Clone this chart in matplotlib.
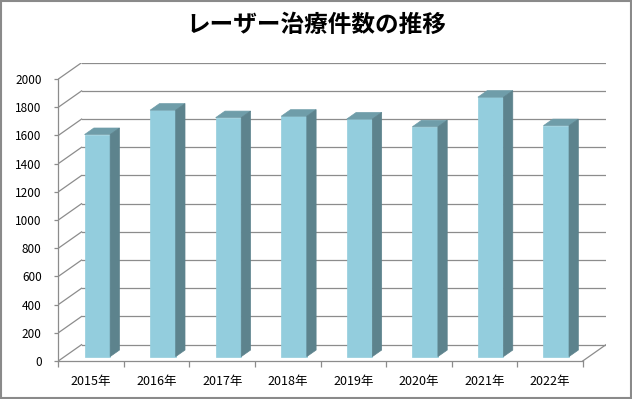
import numpy as np
import matplotlib.pyplot as plt
from matplotlib.patches import Polygon, Rectangle

plt.rcParams['font.family'] = ['Noto Sans CJK JP', 'DejaVu Sans']

# データ
years = ['2015年', '2016年', '2017年', '2018年', '2019年', '2020年', '2021年', '2022年']
counts = [1575, 1748, 1695, 1705, 1685, 1630, 1840, 1638]
yticks = np.arange(0, 2001, 200)
title = 'レーザー治療件数の推移'

# 擬似3Dの奥行き (データ単位)
DX = 0.355
DY = 116.0
f0 = 0.27     # 棒の前面の奥行き位置
dd = 0.40     # 棒の奥行き
w = 0.39      # 棒の幅

c_front = '#93cddd'
c_top = '#6f9da9'
c_side = '#5d838d'
c_grid = '#8c8c8c'

fig = plt.figure(figsize=(6.32, 3.99), dpi=100)
ax = fig.add_axes([58.3 / 632, 38 / 399, 547.7 / 632, 298.3 / 399])
n = len(years)
ax.set_xlim(-0.5, n - 0.5 + DX)
ax.set_ylim(0, 2000 + DY)

# 奥の壁の目盛線と左側の壁の斜線
for v in yticks:
    ax.plot([-0.5 + DX, n - 0.5 + DX], [v + DY, v + DY], color=c_grid, lw=0.9, zorder=1)
    ax.plot([-0.5, -0.5 + DX], [v, v + DY], color=c_grid, lw=0.9, zorder=1)
# 床の右端
ax.plot([n - 0.5, n - 0.5 + DX], [0, DY], color=c_grid, lw=0.9, zorder=1)

# 棒 (前面)
x = np.arange(n)
xl = x - w / 2 + f0 * DX
ax.bar(xl, counts, width=w, bottom=f0 * DY, align='edge', color=c_front,
       edgecolor=c_front, linewidth=0.5, zorder=3)

# 棒の上面と側面
for i in range(n):
    v = counts[i] + f0 * DY
    l = xl[i]
    r = xl[i] + w
    top = [(l, v), (r, v), (r + dd * DX, v + dd * DY), (l + dd * DX, v + dd * DY)]
    side = [(r, f0 * DY), (r, v), (r + dd * DX, v + dd * DY), (r + dd * DX, f0 * DY + dd * DY)]
    ax.add_patch(Polygon(top, closed=True, fc=c_top, ec=c_top, lw=0.5, zorder=3))
    ax.add_patch(Polygon(side, closed=True, fc=c_side, ec=c_side, lw=0.5, zorder=3))

# 軸
for s in ['top', 'right']:
    ax.spines[s].set_visible(False)
ax.spines['left'].set_bounds(0, 2000)
ax.spines['bottom'].set_bounds(-0.5, n - 0.5)
for s in ['left', 'bottom']:
    ax.spines[s].set_color(c_grid)
    ax.spines[s].set_linewidth(0.9)
ax.spines['left'].set_zorder(4)
ax.spines['bottom'].set_zorder(4)

ax.set_yticks(yticks)
ax.set_yticklabels([str(v) for v in yticks])
ax.tick_params(axis='y', direction='out', length=3, width=0.9, color=c_grid,
               labelsize=8.5, pad=9)
ax.set_xticks(x)
ax.set_xticklabels(years)
ax.set_xticks(np.arange(n + 1) - 0.5, minor=True)
ax.tick_params(axis='x', which='major', length=0, labelsize=9, pad=10)
ax.tick_params(axis='x', which='minor', direction='out', length=4, width=0.9, color=c_grid)

fig.text(0.5, 1 - 25 / 399, title, ha='center', va='center', fontsize=17, fontweight='bold')

fig.add_artist(Rectangle((0.001, 0.002), 0.997, 0.996, transform=fig.transFigure,
                         fill=False, ec='#8a8a8a', lw=1.5))

fig.savefig('out.png', dpi=100)
